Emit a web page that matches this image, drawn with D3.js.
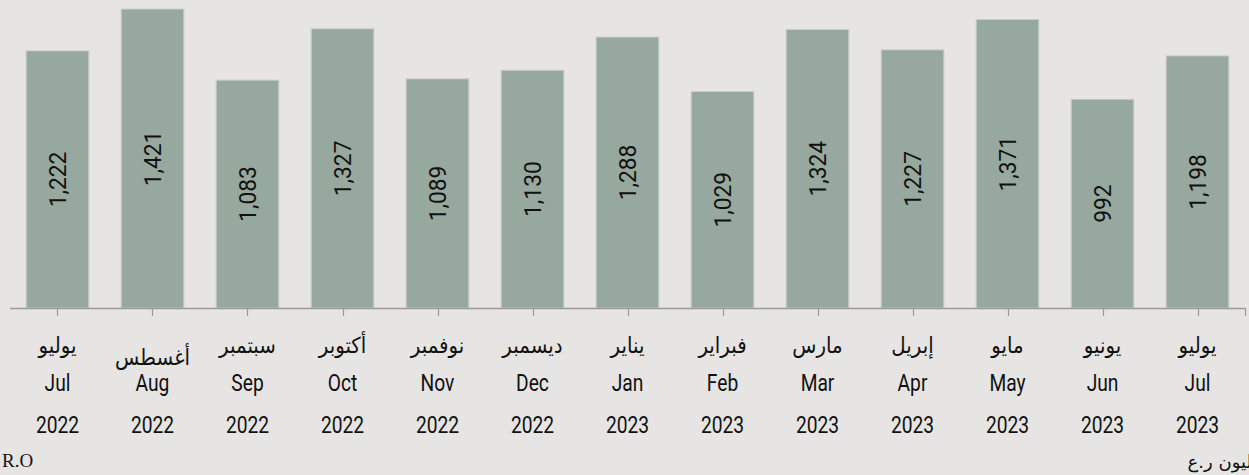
<!DOCTYPE html>
<html>
<head>
<meta charset="utf-8">
<script src="https://cdn.jsdelivr.net/npm/d3@7"></script>
<style>
  body { margin: 0; background: #e6e5e3; }
  svg { display: block; }
</style>
</head>
<body>
<div id="chart"></div>
<script>
// chart size
const width = 1249;
const height = 475;

// data
const monthsAr = ["يوليو", "أغسطس", "سبتمبر", "أكتوبر", "نوفمبر", "ديسمبر", "يناير", "فبراير", "مارس", "إبريل", "مايو", "يونيو", "يوليو"];
const monthsEn = ["Jul", "Aug", "Sep", "Oct", "Nov", "Dec", "Jan", "Feb", "Mar", "Apr", "May", "Jun", "Jul"];
const years = ["2022", "2022", "2022", "2022", "2022", "2022", "2023", "2023", "2023", "2023", "2023", "2023", "2023"];
const values = [1222, 1421, 1083, 1327, 1089, 1130, 1288, 1029, 1324, 1227, 1371, 992, 1198];

const data = values.map((v, i) => ({key: i, value: v, ar: monthsAr[i], en: monthsEn[i], year: years[i]}));

const fmt = d3.format(",");
const font = "Roboto, 'DejaVu Sans', sans-serif";

const svg = d3.select("#chart")
  .append("svg")
  .attr("width", width)
  .attr("height", height);

const x = d3.scaleBand()
  .domain(data.map(d => d.key))
  .range([10, 1245])
  .paddingInner(0.34)
  .paddingOuter(0.17);

const y = d3.scaleLinear()
  .domain([0, 1421])
  .range([308, 9]);

const cx = d => x(d.key) + x.bandwidth() / 2;

// bars
svg.append("g")
  .selectAll("rect")
  .data(data)
  .enter()
  .append("rect")
  .attr("x", d => x(d.key))
  .attr("y", d => y(d.value))
  .attr("width", x.bandwidth())
  .attr("height", d => y(0) - y(d.value))
  .style("fill", "#97a89e")
  .style("stroke", "#c9cfcb")
  .style("stroke-width", 1);

// value labels, rotated inside the bars (squeezed a bit to look like a condensed face)
svg.append("g")
  .selectAll("text")
  .data(data)
  .enter()
  .append("text")
  .attr("transform", d => "translate(" + cx(d) + "," + ((y(d.value) + y(0)) / 2) + ") rotate(-90) scale(0.95,1)")
  .attr("text-anchor", "middle")
  .attr("dy", "0.35em")
  .style("font-family", font)
  .style("font-size", "24px")
  .style("fill", "#111")
  .text(d => fmt(d.value));

// x axis line and ticks
const axis = svg.append("g");
axis.append("line")
  .attr("x1", 10).attr("x2", 1245)
  .attr("y1", 308.5).attr("y2", 308.5)
  .style("stroke", "#9a9a9a")
  .style("stroke-width", 1.5);

const tickXs = data.map(cx).concat([x.range()[1]]);
axis.selectAll(".tick")
  .data(tickXs)
  .enter()
  .append("line")
  .attr("class", "tick")
  .attr("x1", d => Math.round(d) + 0.5).attr("x2", d => Math.round(d) + 0.5)
  .attr("y1", 308).attr("y2", 316)
  .style("stroke", "#9a9a9a")
  .style("stroke-width", 1.2);

// category labels: arabic month, english month, year
const labels = svg.append("g")
  .selectAll("g")
  .data(data)
  .enter()
  .append("g")
  .style("font-family", font)
  .style("fill", "#111")
  .attr("text-anchor", "middle");

// the long arabic name for August wraps lower in the original
labels.append("text")
  .attr("transform", d => "translate(" + cx(d) + "," + (d.key === 1 ? 365 : 353) + ") scale(0.9,1)")
  .style("font-size", "22px")
  .text(d => d.ar);

labels.append("text")
  .attr("transform", d => "translate(" + cx(d) + ",391) scale(0.8,1)")
  .style("font-size", "24px")
  .text(d => d.en);

labels.append("text")
  .attr("transform", d => "translate(" + cx(d) + ",433) scale(0.8,1)")
  .style("font-size", "24px")
  .text(d => d.year);

// units, bottom corners (the arabic one runs off the right edge, as in the original)
svg.append("text")
  .attr("x", 2)
  .attr("y", 467)
  .style("font-family", "'Liberation Serif', serif")
  .style("font-size", "19px")
  .style("fill", "#111")
  .text("R.O");

svg.append("text")
  .attr("x", 1262)
  .attr("y", 468)
  .attr("text-anchor", "end")
  .style("font-family", "'DejaVu Sans', sans-serif")
  .style("font-size", "18px")
  .style("fill", "#111")
  .text("مليون ر.ع");
</script>
</body>
</html>
